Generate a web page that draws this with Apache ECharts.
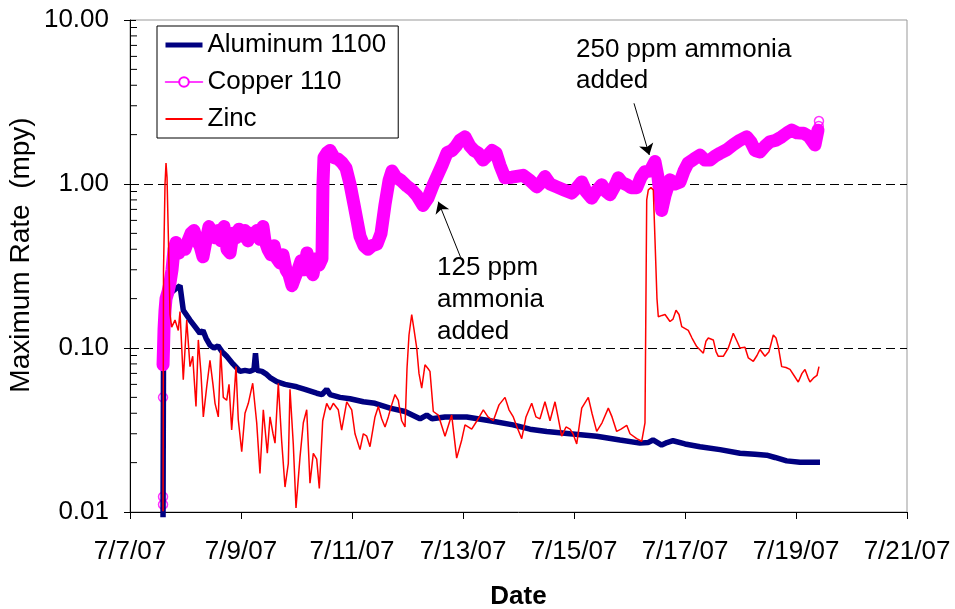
<!DOCTYPE html>
<html>
<head>
<meta charset="utf-8">
<title>Maximum Rate</title>
<script src="https://cdn.jsdelivr.net/npm/echarts@6/dist/echarts.min.js"></script>
<style>
html, body { margin: 0; padding: 0; background: #fff; }
#chart { width: 955px; height: 609px; }
</style>
</head>
<body>
<div id="chart"></div>
<script>
// x values are days since 7/7/07 00:00, rates in mpy
var dateLabels = ['7/7/07', '7/9/07', '7/11/07', '7/13/07', '7/15/07', '7/17/07', '7/19/07', '7/21/07']
var rateLabels = ['0.01', '0.10', '1.00', '10.00']

var alumDays = [0.595, 0.604, 0.631, 0.685, 0.757, 0.829, 0.901, 0.960, 1.081, 1.171, 1.261, 1.315, 1.369, 1.441, 1.514, 1.586, 1.658, 1.742, 1.856, 1.982,
  2.072, 2.162, 2.234, 2.261, 2.288, 2.378, 2.463, 2.523, 2.643, 2.793, 3.004, 3.153, 3.364, 3.459, 3.544, 3.604, 3.784, 3.964, 4.204, 4.414,
  4.685, 4.955, 5.225, 5.346, 5.441, 5.676, 5.820, 6.067, 6.486, 6.901, 7.207, 7.508, 7.928, 8.409, 8.829, 9.189, 9.333, 9.423, 9.580, 9.676,
  9.784, 10.000, 10.270, 10.631, 10.991, 11.261, 11.472, 11.622, 11.832, 12.072, 12.432]
var alumRate = [0.0093, 0.1, 0.15, 0.2, 0.22, 0.23, 0.24, 0.17, 0.148, 0.135, 0.123, 0.128, 0.115, 0.104, 0.1, 0.103, 0.095, 0.089, 0.08, 0.072,
  0.073, 0.072, 0.074, 0.093, 0.073, 0.072, 0.069, 0.066, 0.0623, 0.06, 0.058, 0.056, 0.053, 0.052, 0.056, 0.052, 0.05, 0.049, 0.047, 0.046,
  0.043, 0.041, 0.037, 0.039, 0.037, 0.038, 0.038, 0.038, 0.036, 0.034, 0.032, 0.031, 0.030, 0.029, 0.0275, 0.0263, 0.0265, 0.0275, 0.0256, 0.0265,
  0.0272, 0.026, 0.025, 0.024, 0.0228, 0.0225, 0.0222, 0.0215, 0.0205, 0.0201, 0.0201]

var copperDays = [0.595, 0.604, 0.613, 0.631, 0.649, 0.685, 0.721, 0.757, 0.793, 0.829, 0.883, 0.937, 0.991, 1.045, 1.099, 1.153, 1.207, 1.261, 1.315, 1.369,
  1.423, 1.477, 1.532, 1.586, 1.640, 1.694, 1.748, 1.802, 1.856, 1.910, 1.964, 2.018, 2.072, 2.126, 2.180, 2.234, 2.288, 2.342, 2.396, 2.432,
  2.486, 2.541, 2.595, 2.649, 2.703, 2.757, 2.811, 2.865, 2.919, 2.973, 3.027, 3.081, 3.135, 3.189, 3.243, 3.297, 3.351, 3.405, 3.459, 3.477,
  3.495, 3.550, 3.604, 3.676, 3.748, 3.820, 3.892, 3.964, 4.036, 4.090, 4.144, 4.216, 4.288, 4.360, 4.450, 4.523, 4.595, 4.667, 4.721, 4.793,
  4.883, 4.991, 5.081, 5.171, 5.279, 5.369, 5.459, 5.550, 5.622, 5.712, 5.802, 5.874, 5.946, 6.036, 6.126, 6.198, 6.270, 6.360, 6.450, 6.523,
  6.595, 6.667, 6.757, 6.883, 7.081, 7.207, 7.328, 7.405, 7.477, 7.568, 7.688, 7.820, 7.959, 8.054, 8.139, 8.216, 8.319, 8.396, 8.499, 8.577,
  8.649, 8.721, 8.798, 8.865, 8.950, 9.027, 9.130, 9.207, 9.279, 9.369, 9.459, 9.514, 9.580, 9.640, 9.730, 9.820, 9.910, 9.982, 10.054, 10.162,
  10.270, 10.360, 10.450, 10.541, 10.631, 10.757, 10.865, 10.991, 11.112, 11.189, 11.261, 11.351, 11.441, 11.532, 11.640, 11.742, 11.838, 11.922, 12.018, 12.132,
  12.234, 12.342, 12.396]
var copperRate = [0.079, 0.1, 0.13, 0.17, 0.2, 0.22, 0.25, 0.3, 0.4, 0.44, 0.38, 0.42, 0.40, 0.45, 0.50, 0.52, 0.45, 0.42, 0.36, 0.45,
  0.55, 0.50, 0.47, 0.52, 0.45, 0.55, 0.40, 0.38, 0.50, 0.47, 0.53, 0.48, 0.52, 0.45, 0.50, 0.48, 0.52, 0.46, 0.55, 0.45,
  0.40, 0.37, 0.42, 0.35, 0.33, 0.37, 0.30, 0.28, 0.24, 0.27, 0.30, 0.34, 0.30, 0.38, 0.30, 0.28, 0.35, 0.32, 0.35, 1.0,
  1.45, 1.55, 1.60, 1.45, 1.42, 1.35, 1.25, 1.00, 0.75, 0.60, 0.48, 0.42, 0.40, 0.42, 0.43, 0.50, 0.75, 1.05, 1.20, 1.10,
  1.05, 0.97, 0.92, 0.85, 0.74, 0.82, 0.98, 1.15, 1.30, 1.55, 1.60, 1.70, 1.85, 1.94, 1.70, 1.60, 1.55, 1.40, 1.50, 1.60,
  1.55, 1.30, 1.09, 1.10, 1.13, 1.05, 0.96, 1.02, 1.11, 1.00, 0.96, 0.92, 0.88, 0.95, 1.03, 0.90, 0.82, 0.90, 0.99, 0.90,
  0.86, 0.95, 1.09, 1.02, 0.99, 0.95, 0.95, 1.10, 1.19, 1.20, 1.37, 1.10, 0.69, 0.85, 1.06, 1.00, 1.03, 1.20, 1.34, 1.42,
  1.50, 1.40, 1.40, 1.48, 1.54, 1.62, 1.73, 1.85, 1.94, 1.80, 1.60, 1.57, 1.70, 1.81, 1.85, 1.94, 2.05, 2.13, 2.05, 2.04,
  1.95, 1.73, 2.13]
// single open markers (start of record and last readings)
var copperMarkDays = [0.595, 0.595, 0.595, 0.595, 12.405, 12.41, 12.414]
var copperMarkRate = [0.0111, 0.0124, 0.050, 0.079, 2.10, 2.26, 2.42]

var zincDays = [0.595, 0.604, 0.631, 0.649, 0.667, 0.690, 0.721, 0.751, 0.811, 0.870, 0.901, 0.932, 0.960, 1.022, 1.081, 1.130, 1.189, 1.231, 1.279, 1.321,
  1.382, 1.441, 1.495, 1.532, 1.591, 1.634, 1.681, 1.742, 1.784, 1.832, 1.874, 1.910, 1.951, 2.013, 2.072, 2.132, 2.211, 2.283, 2.342, 2.402,
  2.474, 2.523, 2.577, 2.613, 2.672, 2.733, 2.793, 2.852, 2.883, 2.942, 2.991, 3.063, 3.123, 3.184, 3.243, 3.303, 3.364, 3.411, 3.472, 3.544,
  3.604, 3.663, 3.753, 3.814, 3.905, 3.995, 4.054, 4.144, 4.204, 4.265, 4.324, 4.414, 4.474, 4.535, 4.595, 4.654, 4.715, 4.775, 4.834, 4.895,
  4.955, 4.991, 5.027, 5.076, 5.117, 5.166, 5.207, 5.256, 5.315, 5.369, 5.405, 5.465, 5.555, 5.676, 5.796, 5.886, 5.977, 6.036, 6.157, 6.252,
  6.366, 6.450, 6.546, 6.649, 6.757, 6.829, 6.906, 6.973, 7.058, 7.135, 7.238, 7.315, 7.387, 7.477, 7.568, 7.658, 7.712, 7.778, 7.856, 7.928,
  7.982, 8.049, 8.139, 8.258, 8.324, 8.409, 8.505, 8.618, 8.685, 8.769, 8.847, 8.950, 9.009, 9.130, 9.220, 9.279, 9.310, 9.339, 9.387, 9.429,
  9.459, 9.495, 9.519, 9.586, 9.640, 9.730, 9.784, 9.838, 9.892, 9.941, 10.059, 10.126, 10.211, 10.330, 10.378, 10.420, 10.510, 10.559, 10.600, 10.690,
  10.780, 10.870, 10.937, 10.991, 11.081, 11.141, 11.231, 11.297, 11.351, 11.441, 11.514, 11.591, 11.640, 11.681, 11.742, 11.820, 11.892, 11.964, 12.041, 12.108,
  12.162, 12.216, 12.252, 12.324, 12.378, 12.414]
var zincRate = [0.0101, 0.30, 1.00, 1.34, 1.10, 0.50, 0.16, 0.134, 0.148, 0.128, 0.167, 0.17, 0.064, 0.148, 0.077, 0.089, 0.044, 0.112, 0.070, 0.038,
  0.058, 0.084, 0.060, 0.046, 0.038, 0.097, 0.050, 0.048, 0.060, 0.0316, 0.050, 0.077, 0.0365, 0.0233, 0.040, 0.046, 0.061, 0.035, 0.0172, 0.042,
  0.0228, 0.038, 0.030, 0.0263, 0.061, 0.027, 0.0142, 0.0197, 0.056, 0.026, 0.0106, 0.0216, 0.035, 0.042, 0.015, 0.0228, 0.021, 0.0139, 0.036, 0.046,
  0.042, 0.046, 0.042, 0.0316, 0.047, 0.042, 0.030, 0.024, 0.030, 0.029, 0.025, 0.038, 0.044, 0.037, 0.033, 0.038, 0.045, 0.052, 0.048, 0.036,
  0.033, 0.075, 0.120, 0.160, 0.130, 0.100, 0.070, 0.057, 0.079, 0.075, 0.072, 0.041, 0.039, 0.029, 0.039, 0.0213, 0.0275, 0.034, 0.032, 0.036,
  0.042, 0.038, 0.036, 0.045, 0.050, 0.042, 0.038, 0.033, 0.028, 0.038, 0.046, 0.038, 0.037, 0.047, 0.036, 0.047, 0.038, 0.029, 0.033, 0.032,
  0.030, 0.026, 0.043, 0.050, 0.040, 0.031, 0.035, 0.043, 0.038, 0.031, 0.032, 0.0338, 0.030, 0.028, 0.027, 0.035, 0.80, 0.92, 0.95, 0.92,
  0.46, 0.20, 0.155, 0.158, 0.160, 0.145, 0.150, 0.170, 0.160, 0.135, 0.128, 0.115, 0.102, 0.093, 0.110, 0.115, 0.112, 0.095, 0.089, 0.089,
  0.100, 0.123, 0.110, 0.100, 0.101, 0.087, 0.083, 0.090, 0.098, 0.089, 0.095, 0.120, 0.115, 0.102, 0.077, 0.076, 0.074, 0.068, 0.062, 0.070,
  0.074, 0.066, 0.062, 0.066, 0.068, 0.077]

var FONT = '"Liberation Sans", Arial, sans-serif'

function pairs (days, rates) {
  return days.map(function (d, i) { return [d, rates[i]] })
}

var chart = echarts.init(document.getElementById('chart'), null, { renderer: 'canvas' })

var option = {
  animation: false,
  backgroundColor: '#fff',
  textStyle: { fontFamily: FONT, color: '#000' },
  grid: {
    left: 130,
    right: 48,
    top: 20,
    bottom: 97,
    show: true,
    borderColor: '#999',
    borderWidth: 1,
    outerBoundsMode: 'none'
  },
  legend: {
    orient: 'vertical',
    left: 157,
    top: 26,
    padding: [4, 12, 4, 6],
    itemGap: 7,
    itemWidth: 37,
    itemHeight: 12,
    borderColor: '#000',
    borderWidth: 1,
    borderRadius: 0,
    backgroundColor: '#fff',
    textStyle: { fontFamily: FONT, fontSize: 26, color: '#000', lineHeight: 30 },
    data: [
      { name: 'Aluminum 1100', lineStyle: { width: 5 }, itemStyle: { opacity: 0 } },
      { name: 'Copper 110', lineStyle: { width: 1.5 } },
      { name: 'Zinc', itemStyle: { opacity: 0 } }
    ]
  },
  xAxis: {
    type: 'value',
    min: 0,
    max: 14,
    interval: 2,
    name: 'Date',
    nameLocation: 'middle',
    nameGap: 72,
    nameTextStyle: { fontFamily: FONT, fontSize: 26, fontWeight: 'bold', color: '#000' },
    axisLine: { lineStyle: { color: '#000', width: 1 } },
    axisTick: { show: true, inside: false, length: 7, lineStyle: { color: '#000' } },
    axisLabel: {
      fontFamily: FONT,
      fontSize: 26,
      color: '#000',
      margin: 27,
      formatter: function (v) { return dateLabels[Math.round(v / 2)] }
    },
    splitLine: { show: false }
  },
  yAxis: [
    {
      type: 'log',
      logBase: 10,
      min: 0.01,
      max: 10,
      axisLine: { show: true, lineStyle: { color: '#000', width: 1 } },
      axisTick: { show: true, inside: true, length: 6, lineStyle: { color: '#000' } },
      axisLabel: {
        fontFamily: FONT,
        fontSize: 26,
        color: '#000',
        margin: 21,
        formatter: function (v) { return rateLabels[Math.round(Math.log10(v)) + 2] }
      },
      splitLine: {
        show: true,
        lineStyle: { color: ['rgba(0,0,0,0)', '#000', '#000', 'rgba(0,0,0,0)'], type: [9, 5], width: 1 }
      }
    },
    {
      // outer half of the major ticks
      type: 'log',
      logBase: 10,
      min: 0.01,
      max: 10,
      position: 'left',
      axisLine: { show: false },
      axisTick: { show: true, inside: false, length: 6, lineStyle: { color: '#000' } },
      axisLabel: { show: false },
      splitLine: { show: false }
    }
  ],
  series: [
    {
      name: 'Aluminum 1100',
      type: 'line',
      data: pairs(alumDays, alumRate),
      symbol: 'none',
      clip: false,
      lineStyle: { color: '#000080', width: 5.5 },
      itemStyle: { color: '#000080' }
    },
    {
      name: 'Copper 110',
      type: 'line',
      data: pairs(copperDays, copperRate),
      symbol: 'emptyCircle',
      symbolSize: 9,
      showSymbol: false,
      lineStyle: { color: '#FF00FF', width: 13, cap: 'round', join: 'round' },
      itemStyle: { color: '#FF00FF' }
    },
    {
      name: 'Copper 110',
      type: 'scatter',
      data: pairs(copperMarkDays, copperMarkRate),
      symbol: 'circle',
      symbolSize: 9,
      itemStyle: { color: 'rgba(0,0,0,0)', borderColor: '#FF00FF', borderWidth: 1.5 }
    },
    {
      name: 'Zinc',
      type: 'line',
      data: pairs(zincDays, zincRate),
      symbol: 'none',
      lineStyle: { color: '#FF0000', width: 1.5 },
      itemStyle: { color: '#FF0000' },
      markLine: {
        silent: true,
        symbol: ['none', 'arrow'],
        symbolSize: 11,
        label: { show: false },
        lineStyle: { color: '#000', width: 1, type: 'solid' },
        data: [
          [{ coord: [5.976, 0.344] }, { coord: [5.555, 0.78] }],
          [{ coord: [9.081, 3.105] }, { coord: [9.357, 1.502] }]
        ]
      }
    }
  ]
}
chart.setOption(option)

// log minor ticks (2..9 in each decade), y title and the notes
var graphics = []
var x0 = chart.convertToPixel({ xAxisIndex: 0 }, 0)
for (var k = -2; k < 1; k++) {
  for (var m = 2; m < 10; m++) {
    var y = chart.convertToPixel({ yAxisIndex: 0 }, m * Math.pow(10, k))
    graphics.push({
      type: 'line',
      silent: true,
      shape: { x1: x0, y1: y, x2: x0 + 7, y2: y },
      style: { stroke: '#000', lineWidth: 1 }
    })
  }
}
graphics.push({
  type: 'text',
  x: 21,
  y: 255,
  rotation: Math.PI / 2,
  style: { text: 'Maximum Rate  (mpy)', fontFamily: FONT, fontSize: 28, fill: '#000', align: 'center', verticalAlign: 'middle' }
})
graphics.push({
  type: 'text',
  left: 437,
  top: 252,
  style: { text: '125 ppm\nammonia\nadded', fontFamily: FONT, fontSize: 26, lineHeight: 32, fill: '#000' }
})
graphics.push({
  type: 'text',
  left: 576,
  top: 34,
  style: { text: '250 ppm ammonia\nadded', fontFamily: FONT, fontSize: 26, lineHeight: 31, fill: '#000' }
})
chart.setOption({ graphic: graphics })
</script>
</body>
</html>
